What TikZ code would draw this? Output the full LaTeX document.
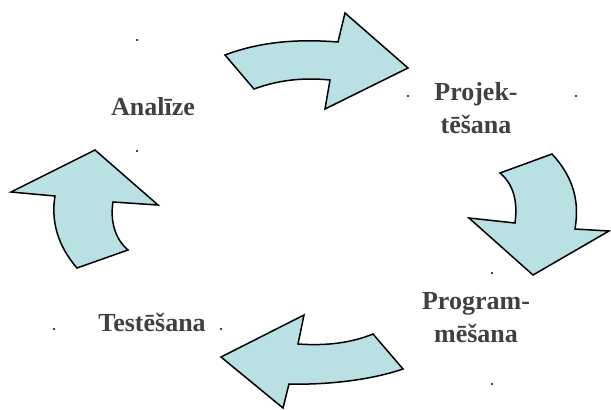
\documentclass[tikz,border=0pt]{standalone}
\usepackage{fontspec}
\setmainfont{Liberation Serif}
\definecolor{arrowfill}{HTML}{B9E0E3}
\definecolor{labelgray}{HTML}{404040}
\tikzset{
  cyclearrow/.style={draw=black, line width=1.5pt, fill=arrowfill, line join=miter},
  lbl/.style={text=labelgray, font=\fontsize{26}{33}\selectfont\bfseries, align=center, inner sep=0pt},
  tinydot/.style={fill=labelgray, inner sep=0pt, minimum width=1.2pt, minimum height=2pt}
}
\begin{document}
\begin{tikzpicture}[x=1pt,y=-1pt]
\useasboundingbox (0,0) rectangle (611,410);
% arrows
\draw[cyclearrow] (225,55) .. controls (262,41) and (300,39) .. (338,42) -- (345,13) -- (408,68) -- (325,109) -- (330,80) .. controls (300,77) and (276,81) .. (254,89) -- cycle;
\draw[cyclearrow] (500,173) -- (552,154) .. controls (576,180) and (579,205) .. (575,229) -- (609,231) -- (533,275) -- (469,218) -- (515,223) .. controls (518,200) and (513,184) .. (500,173) -- cycle;
\draw[cyclearrow] (373,334) -- (403,369) .. controls (368,381) and (322,385) .. (289,384) -- (283,408) -- (221,357) -- (304,315) -- (298,344) .. controls (326,346) and (351,343) .. (373,334) -- cycle;
\draw[cyclearrow] (128,250) -- (77,268) .. controls (57,245) and (51,220) .. (55,196) -- (11,192) -- (95,150) -- (158,205) -- (113,202) .. controls (110,221) and (115,239) .. (128,250) -- cycle;
% labels
\node[lbl] (analize) at (153,107) {Analīze};
\node[lbl] (proj) at (476,108) {Projek-\\tēšana};
\node[lbl] (prog) at (476,318) {Program-\\mēšana};
\node[lbl] (test) at (152,322) {Testēšana};
% tiny dots
\node[tinydot] (d1) at (137,40) {};
\node[tinydot] (d2) at (137,151) {};
\node[tinydot] (d3) at (408,96) {};
\node[tinydot] (d4) at (576,96) {};
\node[tinydot] (d5) at (492,273) {};
\node[tinydot] (d6) at (492,384) {};
\node[tinydot] (d7) at (54,329) {};
\node[tinydot] (d8) at (221,329) {};
\end{tikzpicture}
\end{document}
